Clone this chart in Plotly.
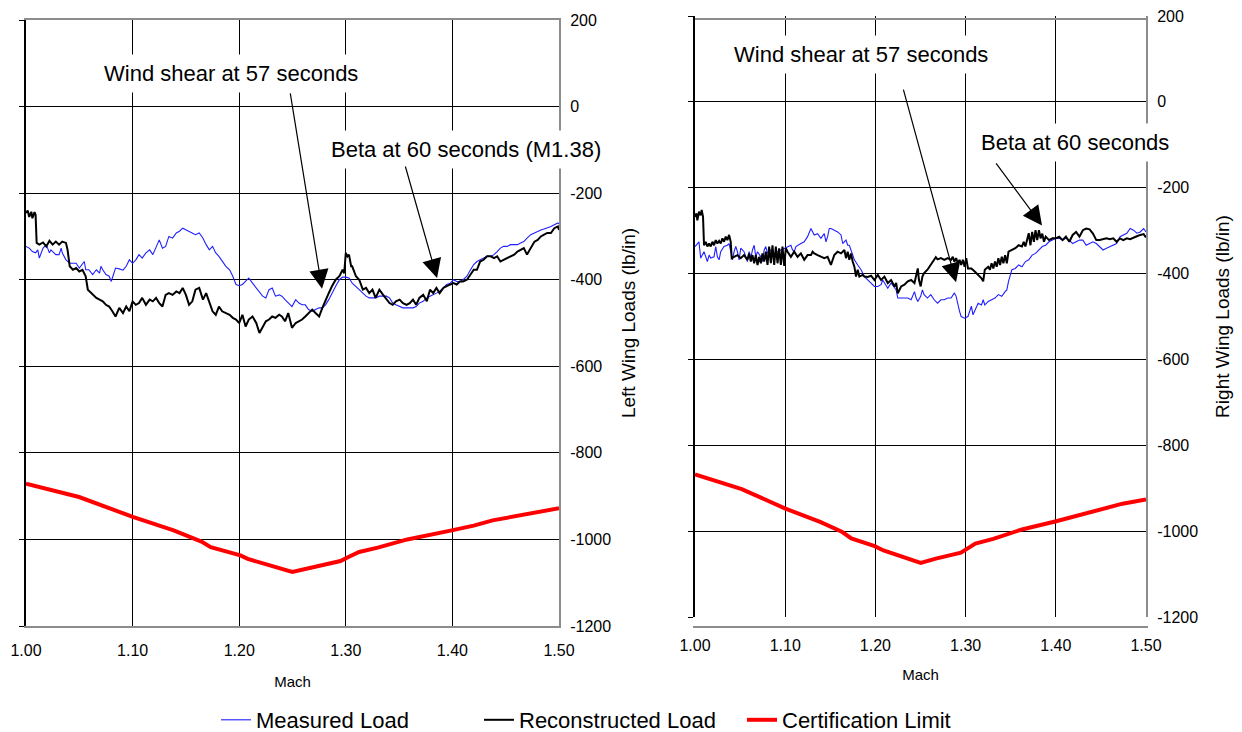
import plotly.graph_objects as go

# ---------------- Left wing ----------------
L_MEAS_M = [1.000, 1.003, 1.006, 1.009, 1.011, 1.0125, 1.016, 1.019, 1.022, 1.0234, 1.025, 1.028, 1.031, 1.033,
            1.034, 1.0375, 1.041, 1.044, 1.047, 1.050, 1.053, 1.0547, 1.056, 1.059, 1.0625, 1.066, 1.069, 1.0703,
            1.072, 1.075, 1.078, 1.080, 1.081, 1.084, 1.0875, 1.091, 1.094, 1.097, 1.100, 1.103, 1.106, 1.109,
            1.1125, 1.116, 1.119, 1.122, 1.125, 1.128, 1.131, 1.134, 1.1375, 1.141, 1.144, 1.147, 1.150, 1.153,
            1.156, 1.159, 1.1625, 1.166, 1.169, 1.172, 1.175, 1.178, 1.181, 1.184, 1.1875, 1.191, 1.194, 1.197,
            1.200, 1.203, 1.206, 1.209, 1.2125, 1.216, 1.219, 1.222, 1.225, 1.228, 1.231, 1.234, 1.2375,
            1.240, 1.243, 1.246, 1.2495, 1.253, 1.256, 1.259, 1.262, 1.265, 1.2685, 1.2716, 1.275, 1.278, 1.281,
            1.284, 1.287, 1.2905, 1.294, 1.297, 1.300, 1.303, 1.306, 1.3095, 1.3126, 1.316, 1.319, 1.322, 1.325,
            1.328, 1.3315, 1.335, 1.338, 1.341, 1.344, 1.347, 1.3505, 1.3536, 1.357, 1.360, 1.363, 1.366, 1.369,
            1.3726, 1.376, 1.379, 1.382, 1.385, 1.388, 1.3915, 1.3946, 1.398, 1.401, 1.404, 1.407, 1.410, 1.4136,
            1.417, 1.420, 1.423, 1.426, 1.4293, 1.4325, 1.436, 1.439, 1.442, 1.445, 1.448, 1.4514, 1.4546, 1.458,
            1.461, 1.464, 1.467, 1.470, 1.4735, 1.477, 1.480, 1.483, 1.486, 1.489, 1.4924, 1.4956, 1.499, 1.500]
L_MEAS = [-323, -327, -335, -338, -331, -350, -327, -319, -338, -331, -335, -342, -342, -327,
          -338, -354, -362, -362, -362, -373, -362, -358, -377, -377, -388, -377, -385, -369,
          -377, -388, -392, -404, -396, -373, -375, -378, -369, -354, -362, -354, -342, -350,
          -338, -331, -342, -323, -308, -327, -323, -300, -304, -292, -288, -281, -285, -288,
          -292, -296, -292, -304, -319, -331, -323, -338, -346, -358, -369, -377, -392, -411,
          -414, -411, -404, -396, -408, -419, -431, -438, -442, -423, -419, -438, -435,
          -438, -446, -454, -462, -446, -454, -458, -458, -469, -473, -469, -465, -465, -458,
          -446, -431, -415, -400, -394, -394, -396, -408, -415, -423, -431, -438, -442, -442,
          -442, -438, -438, -438, -442, -454, -458, -462, -465, -465, -465, -465, -462, -454,
          -450, -442, -438, -435, -431, -427, -419, -411, -408, -400, -404, -404, -400, -392,
          -377, -365, -358, -354, -350, -346, -346, -342, -335, -327, -323, -323, -319, -319,
          -319, -315, -312, -304, -296, -292, -288, -285, -283, -281, -277, -273, -269, -271]

L_RECON_M = [1.000, 1.0016, 1.003, 1.005, 1.006, 1.008, 1.009, 1.010, 1.0125, 1.016, 1.019, 1.022, 1.025,
             1.028, 1.031, 1.034, 1.0375, 1.039, 1.041, 1.044, 1.047, 1.050, 1.053, 1.056, 1.058, 1.0625,
             1.066, 1.069, 1.072, 1.075, 1.078, 1.081, 1.084, 1.0875, 1.091, 1.094, 1.097, 1.100, 1.103,
             1.106, 1.109, 1.1125, 1.116, 1.119, 1.122, 1.125, 1.128, 1.131, 1.134, 1.1375, 1.141, 1.144,
             1.147, 1.150, 1.153, 1.156, 1.159, 1.1625, 1.166, 1.169, 1.172, 1.175, 1.178, 1.181, 1.184,
             1.1875, 1.191, 1.194, 1.197, 1.200, 1.203, 1.206, 1.209, 1.2125, 1.216, 1.219, 1.222, 1.225,
             1.228, 1.231, 1.234, 1.2375,
             1.240, 1.243, 1.246, 1.2495, 1.253, 1.256, 1.259, 1.262, 1.265, 1.2685, 1.2716, 1.275, 1.278,
             1.281, 1.284, 1.287, 1.2905, 1.294, 1.297, 1.2985, 1.300, 1.3016, 1.303, 1.305, 1.306, 1.3095,
             1.3126, 1.316, 1.319, 1.322, 1.325, 1.328, 1.3315, 1.335, 1.338, 1.341, 1.344, 1.347, 1.3505,
             1.3536, 1.357, 1.360, 1.363, 1.366, 1.369, 1.3726, 1.376, 1.379, 1.382, 1.385, 1.388, 1.3915,
             1.3946, 1.398, 1.401, 1.404, 1.407, 1.410, 1.4136, 1.417, 1.420, 1.423, 1.426, 1.4293, 1.4325,
             1.436, 1.439, 1.442, 1.445, 1.448, 1.4514, 1.4546, 1.458, 1.461, 1.464, 1.467, 1.470, 1.4735,
             1.477, 1.480, 1.483, 1.486, 1.489, 1.4924, 1.4956, 1.499, 1.500]
L_RECON = [-246, -240, -255, -243, -258, -244, -250, -315, -319, -314, -323, -310, -319,
           -312, -319, -312, -315, -331, -369, -377, -373, -381, -377, -392, -423, -435,
           -442, -446, -450, -458, -462, -473, -485, -465, -477, -462, -473, -450, -458,
           -454, -442, -458, -446, -450, -442, -454, -462, -435, -431, -435, -427, -431,
           -419, -435, -458, -450, -423, -419, -446, -431, -454, -473, -481, -462, -473,
           -477, -481, -488, -492, -500, -481, -508, -492, -485, -500, -523, -508, -496,
           -492, -485, -488, -481,
           -485, -496, -477, -511, -500, -496, -492, -485, -477, -469, -477, -485, -465,
           -446, -431, -415, -400, -392, -377, -385, -338, -346, -342, -369, -369, -392,
           -400, -423, -419, -431, -423, -442, -423, -435, -446, -454, -458, -450, -446,
           -454, -458, -454, -446, -458, -442, -435, -450, -423, -431, -419, -431, -419,
           -415, -411, -408, -411, -404, -404, -400, -388, -377, -377, -358, -354, -346,
           -346, -350, -346, -358, -354, -350, -346, -342, -335, -331, -327, -342, -327,
           -312, -308, -300, -296, -292, -292, -281, -277, -285]

L_CERT_M = [1.000, 1.0498, 1.1002, 1.1385, 1.1646, 1.1733, 1.2011, 1.208, 1.2498, 1.295, 1.302, 1.3125,
            1.330, 1.3577, 1.3994, 1.420, 1.4377, 1.469, 1.500]
L_CERT = [-871, -902, -948, -979, -1005, -1018, -1037, -1045, -1075, -1050, -1041, -1029,
          -1019, -1000, -979, -968, -956, -941, -928]

# ---------------- Right wing ----------------
R_MEAS_M = [1.0000, 1.0026, 1.0044, 1.0063, 1.0081, 1.0100, 1.0137, 1.0156, 1.0174, 1.0211, 1.0230, 1.0248,
            1.0267, 1.0285, 1.0322, 1.0359, 1.0378, 1.0396, 1.0415, 1.0433, 1.0452, 1.0470, 1.0489, 1.0507,
            1.0544, 1.0581, 1.0600, 1.0619, 1.0637, 1.0656, 1.0674, 1.0693, 1.0730, 1.0748, 1.0767, 1.0785,
            1.0804, 1.0841, 1.0878, 1.0915, 1.0952, 1.0989, 1.1026, 1.1063, 1.1081, 1.1100, 1.1119, 1.1137,
            1.1174, 1.1211, 1.1248, 1.1285, 1.1304, 1.1322, 1.1359, 1.1396, 1.1433, 1.1452, 1.1470, 1.1489,
            1.1507, 1.1544, 1.1581, 1.1619, 1.1637, 1.1674, 1.1693, 1.1711, 1.1730, 1.1767, 1.1804, 1.1841,
            1.1878, 1.1915, 1.1952, 1.1989, 1.2026, 1.2063, 1.2081, 1.2100, 1.2137, 1.2174, 1.2211, 1.2230,
            1.2248, 1.2285, 1.2322, 1.2359, 1.2396, 1.2415, 1.2433, 1.2452, 1.2470,
            1.2502, 1.2521, 1.2540, 1.2577, 1.2614, 1.2652, 1.2689, 1.2727, 1.2764, 1.2801, 1.2839, 1.2876,
            1.2895, 1.2914, 1.2933, 1.2951, 1.2989, 1.3026, 1.3045, 1.3064, 1.3082, 1.3101, 1.3139, 1.3176,
            1.3195, 1.3213, 1.3251, 1.3288, 1.3326, 1.3363, 1.3401, 1.3438, 1.3457, 1.3476, 1.3513, 1.3551,
            1.3588, 1.3625, 1.3663, 1.3700, 1.3738, 1.3775, 1.3813, 1.3850, 1.3888, 1.3925, 1.3963, 1.4000,
            1.4037, 1.4075, 1.4112, 1.4150, 1.4187, 1.4225, 1.4262, 1.4300, 1.4337, 1.4375, 1.4412, 1.4449,
            1.4487, 1.4524, 1.4562, 1.4599, 1.4637, 1.4674, 1.4712, 1.4749, 1.4787, 1.4824, 1.4861, 1.4899,
            1.4936, 1.4974, 1.5000]
R_MEAS = [-337, -330, -326, -364, -357, -349, -372, -357, -364, -361, -337, -361,
          -368, -349, -337, -334, -330, -349, -368, -349, -337, -349, -368, -341,
          -349, -372, -349, -364, -345, -334, -361, -349, -361, -372, -345, -337,
          -353, -345, -357, -349, -345, -341, -337, -334, -345, -349, -337, -334,
          -330, -326, -314, -295, -303, -310, -307, -318, -307, -326, -314, -295,
          -295, -299, -303, -310, -330, -322, -334, -334, -345, -368, -380, -391,
          -407, -415, -422, -430, -430, -426, -415, -422, -434, -422, -434, -438,
          -457, -457, -457, -457, -461, -449, -442, -457, -465,
          -453, -438, -449, -457, -449, -461, -469, -461, -461, -457, -457, -445,
          -453, -472, -488, -500, -504, -500, -488, -476, -496, -488, -469, -473,
          -461, -473, -465, -461, -457, -449, -453, -442, -438, -418, -391, -388,
          -380, -384, -372, -368, -357, -353, -345, -337, -334, -326, -322, -318,
          -318, -322, -318, -322, -330, -326, -322, -322, -334, -330, -326, -330,
          -337, -345, -341, -337, -334, -330, -314, -310, -306, -295, -299, -306,
          -303, -295, -303]

R_RECON_M = [1.0000, 1.0015, 1.0026, 1.0044, 1.0063, 1.0074, 1.0089, 1.0100, 1.0119, 1.0137, 1.0156, 1.0174,
             1.0193, 1.0211, 1.0230, 1.0248, 1.0267, 1.0285, 1.0304, 1.0322, 1.0341, 1.0359, 1.0378, 1.0396,
             1.0407, 1.0433, 1.0470, 1.0507, 1.0544, 1.0581, 1.0600, 1.0619, 1.0637, 1.0656, 1.0674, 1.0693,
             1.0711, 1.0730, 1.0748, 1.0767, 1.0785, 1.0804, 1.0822, 1.0841, 1.0859, 1.0878, 1.0896, 1.0915,
             1.0933, 1.0952, 1.0970, 1.0989, 1.1007, 1.1026, 1.1063, 1.1100, 1.1137, 1.1174, 1.1211, 1.1248,
             1.1285, 1.1304, 1.1322, 1.1359, 1.1396, 1.1433, 1.1470, 1.1507, 1.1544, 1.1581, 1.1619, 1.1656,
             1.1674, 1.1693, 1.1711, 1.1730, 1.1748, 1.1767, 1.1785, 1.1804, 1.1822, 1.1859, 1.1878, 1.1915,
             1.1952, 1.1989, 1.2026, 1.2063, 1.2100, 1.2137, 1.2174, 1.2211, 1.2230, 1.2248, 1.2285, 1.2322,
             1.2359, 1.2396, 1.2433, 1.2452, 1.2470,
             1.2483, 1.2502, 1.2521, 1.2540, 1.2577, 1.2614, 1.2652, 1.2670, 1.2689, 1.2727, 1.2764, 1.2801,
             1.2839, 1.2858, 1.2876, 1.2895, 1.2914, 1.2933, 1.2951, 1.2970, 1.2989, 1.3007, 1.3026, 1.3064,
             1.3101, 1.3139, 1.3176, 1.3195, 1.3213, 1.3251, 1.3270, 1.3288, 1.3307, 1.3326, 1.3345, 1.3363,
             1.3382, 1.3401, 1.3419, 1.3438, 1.3457, 1.3476, 1.3513, 1.3551, 1.3588, 1.3625, 1.3644, 1.3663,
             1.3700, 1.3719, 1.3738, 1.3757, 1.3775, 1.3794, 1.3813, 1.3831, 1.3850, 1.3869, 1.3888, 1.3925,
             1.3963, 1.4000, 1.4037, 1.4075, 1.4112, 1.4150, 1.4187, 1.4206, 1.4225, 1.4262, 1.4300, 1.4337,
             1.4375, 1.4412, 1.4449, 1.4487, 1.4524, 1.4562, 1.4599, 1.4637, 1.4674, 1.4693, 1.4712, 1.4749,
             1.4787, 1.4824, 1.4861, 1.4899, 1.4936, 1.4974, 1.5000]
R_RECON = [-268, -260, -276, -256, -264, -252, -268, -334, -326, -337, -330, -337,
           -326, -334, -322, -330, -324, -330, -318, -326, -314, -322, -310, -326,
           -364, -361, -357, -364, -357, -368, -353, -372, -357, -376, -357, -380,
           -361, -376, -353, -372, -349, -380, -337, -376, -334, -380, -337, -376,
           -341, -380, -337, -382, -341, -349, -361, -349, -361, -353, -368, -357,
           -357, -349, -353, -357, -361, -364, -361, -380, -357, -349, -353, -345,
           -364, -349, -368, -353, -372, -384, -407, -391, -407, -403, -407, -408,
           -405, -415, -403, -415, -407, -422, -415, -430, -422, -446, -430, -426,
           -418, -415, -422, -407, -388,
           -415, -430, -407, -399, -391, -380, -368, -362, -367, -364, -368, -364,
           -368, -361, -372, -364, -376, -368, -380, -368, -384, -364, -388, -388,
           -395, -403, -411, -418, -391, -384, -391, -376, -388, -372, -384, -364,
           -380, -361, -376, -357, -376, -349, -345, -341, -334, -337, -326, -337,
           -306, -334, -303, -326, -299, -322, -299, -318, -307, -326, -314, -322,
           -318, -318, -314, -322, -314, -326, -310, -307, -303, -314, -299, -295,
           -297, -307, -322, -322, -320, -318, -320, -318, -326, -322, -318, -322,
           -318, -320, -316, -313, -310, -308, -316]

R_CERT_M = [1.000, 1.0518, 1.0996, 1.1394, 1.1633, 1.1733, 1.1992, 1.209, 1.2502, 1.267, 1.2948, 1.3108,
            1.3307, 1.3625, 1.4004, 1.4223, 1.4363, 1.474, 1.500]
R_CERT = [-868, -902, -947, -979, -1002, -1017, -1035, -1045, -1074, -1064, -1050, -1029,
          -1018, -996, -977, -965, -955, -936, -926]

SERIES_NAMES = ["Measured Load", "Reconstructed Load", "Certification Limit"]
SERIES_COLORS = ["#1f1fff", "#000000", "#ff0000"]
SERIES_WIDTHS = [1.1, 2.0, 4.0]

X_TICKS = [1.0, 1.1, 1.2, 1.3, 1.4, 1.5]
X_TICK_TEXT = ["1.00", "1.10", "1.20", "1.30", "1.40", "1.50"]
Y_TICKS = [200, 0, -200, -400, -600, -800, -1000, -1200]
Y_TICK_TEXT = ["200", "0", "-200", "-400", "-600", "-800", "-1000", "-1200"]

FONT = "Liberation Sans, Arial, sans-serif"
W, H = 1242, 732

fig = go.Figure()

panels = [
    dict(x="x", y="y", data=[(L_MEAS_M, L_MEAS), (L_RECON_M, L_RECON), (L_CERT_M, L_CERT)], legend=True),
    dict(x="x2", y="y2", data=[(R_MEAS_M, R_MEAS), (R_RECON_M, R_RECON), (R_CERT_M, R_CERT)], legend=False),
]
for p in panels:
    for (mx, ld), name, col, lw in zip(p["data"], SERIES_NAMES, SERIES_COLORS, SERIES_WIDTHS):
        fig.add_trace(go.Scatter(x=mx, y=ld, mode="lines", name=name,
                                 line=dict(color=col, width=lw),
                                 showlegend=p["legend"], xaxis=p["x"], yaxis=p["y"]))

# invisible traces so the left-hand spine axes get drawn
fig.add_trace(go.Scatter(x=[None], y=[None], xaxis="x", yaxis="y3", showlegend=False, hoverinfo="skip"))
fig.add_trace(go.Scatter(x=[None], y=[None], xaxis="x2", yaxis="y4", showlegend=False, hoverinfo="skip"))

# plot-area boxes (pixel extents converted to paper fractions)
left_box = dict(x0=26 / W, x1=559 / W, y0=1 - 626 / H, y1=1 - 20 / H)
right_box = dict(x0=695 / W, x1=1146 / W, y0=1 - 617 / H, y1=1 - 16 / H)


def xaxis_cfg(box, standoff, title_standoff):
    return dict(domain=[box["x0"], box["x1"]], range=[1.0, 1.5], tickvals=X_TICKS, ticktext=X_TICK_TEXT,
                automargin=False,
                showgrid=True, gridcolor="#000000", gridwidth=1, zeroline=False,
                showline=True, linecolor="#8c8c8c", linewidth=2, mirror=True,
                ticks="", ticklabelstandoff=standoff,
                tickfont=dict(family=FONT, size=16, color="#000"),
                title=dict(text="Mach", font=dict(family=FONT, size=15, color="#000"), standoff=title_standoff))


def yaxis_cfg(box, anchor, title, title_standoff):
    return dict(domain=[box["y0"], box["y1"]], range=[-1200, 200], tickvals=Y_TICKS, ticktext=Y_TICK_TEXT,
                anchor=anchor, automargin=False,
                side="right", showgrid=True, gridcolor="#000000", gridwidth=1, zeroline=False,
                showline=True, linecolor="#8c8c8c", linewidth=2, ticks="", ticklabelstandoff=6,
                tickfont=dict(family=FONT, size=16, color="#000"),
                title=dict(text=title, font=dict(family=FONT, size=19, color="#000"), standoff=title_standoff))


def spine_cfg(box, anchor, over):
    return dict(domain=[box["y0"], box["y1"]], range=[-1200, 200], tickvals=Y_TICKS, anchor=anchor,
                overlaying=over, side="left", showgrid=False, zeroline=False, showticklabels=False,
                automargin=False,
                showline=True, linecolor="#000000", linewidth=2,
                ticks="outside", ticklen=5, tickcolor="#000000", tickwidth=1)


fig.update_layout(
    width=W, height=H,
    margin=dict(l=0, r=0, t=0, b=0, autoexpand=False),
    paper_bgcolor="white", plot_bgcolor="white",
    font=dict(family=FONT, color="#000"),
    xaxis=xaxis_cfg(left_box, 9, 18),
    xaxis2=xaxis_cfg(right_box, 4, 16),
    yaxis=yaxis_cfg(left_box, "x", "Left Wing Loads (lb/in)", 11),
    yaxis2=yaxis_cfg(right_box, "x2", "Right Wing Loads (lb/in)", 18),
    yaxis3=spine_cfg(left_box, "x", "y"),
    yaxis4=spine_cfg(right_box, "x2", "y2"),
    showlegend=True,
    legend=dict(orientation="h", x=216 / W, xanchor="left", y=1 - 720 / H, yanchor="middle",
                font=dict(family=FONT, size=22, color="#000"), bgcolor="rgba(0,0,0,0)",
                entrywidth=218, entrywidthmode="pixels", itemwidth=30, tracegroupgap=0),
)

# callout labels (white boxes break the grid and frame behind them)
labels = [
    dict(xref="x", yref="y", x=1.1923, y=76, text="Wind shear at 57 seconds"),
    dict(xref="x", yref="y", x=1.4128, y=-100, text="Beta at 60 seconds (M1.38)"),
    dict(xref="x2", yref="y2", x=1.1840, y=110, text="Wind shear at 57 seconds"),
    dict(xref="x2", yref="y2", x=1.4212, y=-95, text="Beta at 60 seconds"),
]
for lab in labels:
    fig.add_annotation(**lab, showarrow=False, bgcolor="white", borderpad=6,
                       font=dict(family=FONT, size=22, color="#000"))

# arrows: tail (ax, ay) to head (x, y), all in data units
arrows = [
    dict(xref="x", yref="y", axref="x", ayref="y", ax=1.2477, ay=34, x=1.2777, y=-421),
    dict(xref="x", yref="y", axref="x", ayref="y", ax=1.3555, ay=-135, x=1.3856, y=-396),
    dict(xref="x2", yref="y2", axref="x2", ayref="y2", ax=1.2306, ay=32, x=1.2894, y=-420),
    dict(xref="x2", yref="y2", axref="x2", ayref="y2", ax=1.3326, ay=-140, x=1.3847, y=-288),
]
for ar in arrows:
    fig.add_annotation(**ar, text="", showarrow=True, arrowhead=2, arrowsize=3.2, arrowwidth=1.2,
                       arrowcolor="#000000", standoff=0, startstandoff=0)

fig.write_html("out.html")
